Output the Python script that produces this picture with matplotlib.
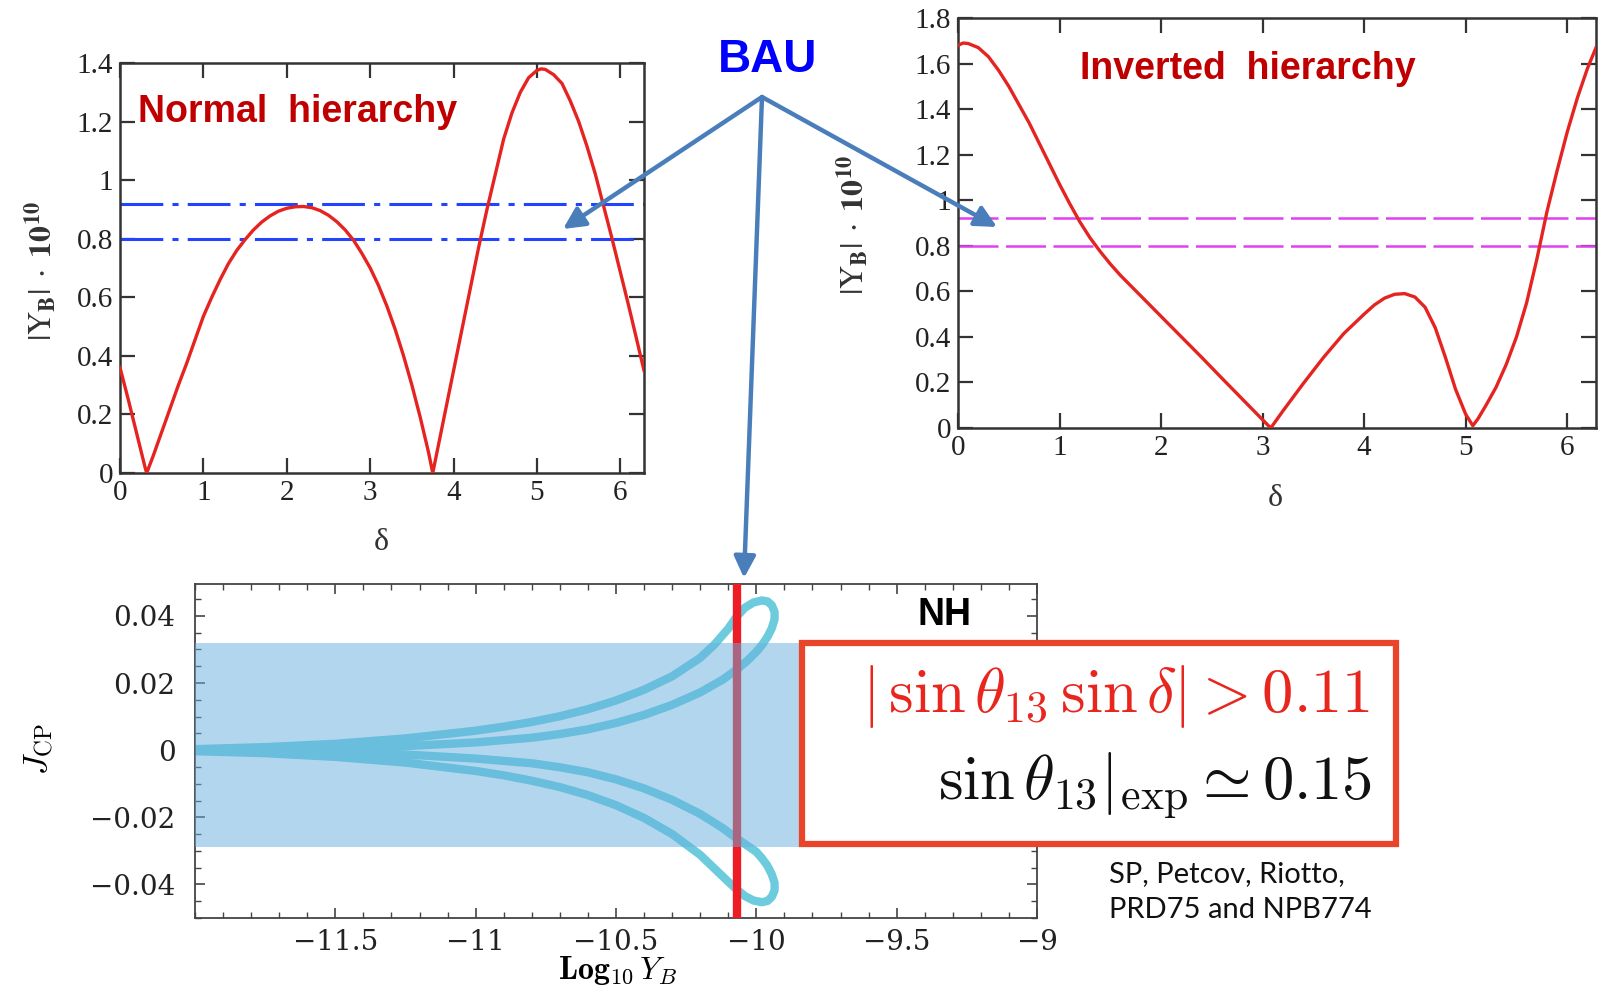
import matplotlib
matplotlib.use("Agg")
import matplotlib.pyplot as plt
from matplotlib.patches import FancyArrowPatch, Rectangle
from matplotlib.ticker import FixedLocator, FixedFormatter, MultipleLocator

plt.rcParams["font.family"] = ["Liberation Serif", "DejaVu Serif"]

# ---------------- data ----------------
nh_delta = [0.0, 0.1, 0.2, 0.3, 0.32, 0.4, 0.5, 0.6, 0.7, 0.8, 0.9, 1.0, 1.1, 1.2, 1.3, 1.4,
            1.5, 1.6, 1.7, 1.8, 1.9, 2.0, 2.1, 2.2, 2.3, 2.4, 2.5, 2.6, 2.7, 2.8, 2.9, 3.0,
            3.1, 3.2, 3.3, 3.4, 3.5, 3.6, 3.7, 3.75, 3.8, 3.9, 4.0, 4.1, 4.2, 4.3, 4.4, 4.5,
            4.6, 4.7, 4.8, 4.9, 5.0, 5.05, 5.1, 5.2, 5.3, 5.4, 5.5, 5.6, 5.7, 5.8, 5.9, 6.0,
            6.1, 6.2, 6.283]
nh_yb = [0.36, 0.25, 0.135, 0.02, 0.0, 0.06, 0.14, 0.22, 0.30, 0.375, 0.455, 0.535, 0.60,
         0.66, 0.715, 0.76, 0.797, 0.83, 0.857, 0.878, 0.894, 0.904, 0.909, 0.910, 0.906,
         0.896, 0.88, 0.858, 0.83, 0.795, 0.75, 0.70, 0.64, 0.57, 0.49, 0.40, 0.30, 0.19,
         0.07, 0.0, 0.07, 0.21, 0.35, 0.49, 0.63, 0.77, 0.90, 1.02, 1.14, 1.23, 1.30, 1.35,
         1.375, 1.38, 1.378, 1.36, 1.33, 1.27, 1.20, 1.115, 1.02, 0.91, 0.80, 0.685, 0.57,
         0.45, 0.35]

ih_delta = [0.0, 0.05, 0.1, 0.2, 0.3, 0.4, 0.5, 0.6, 0.7, 0.8, 0.9, 1.0, 1.1, 1.2, 1.3,
            1.4, 1.5, 1.6, 1.7, 1.8, 1.9, 2.0, 2.2, 2.4, 2.6, 2.8, 3.0, 3.08, 3.2, 3.4, 3.6,
            3.8, 4.0, 4.1, 4.2, 4.3, 4.4, 4.5, 4.6, 4.7, 4.8, 4.9, 5.0, 5.07, 5.12, 5.2, 5.3,
            5.4, 5.5, 5.6, 5.7, 5.8, 5.9, 6.0, 6.1, 6.2, 6.283]
ih_yb = [1.68, 1.69, 1.688, 1.67, 1.63, 1.57, 1.50, 1.42, 1.34, 1.25, 1.16, 1.07, 0.985,
         0.905, 0.835, 0.775, 0.72, 0.67, 0.625, 0.58, 0.535, 0.49, 0.40, 0.31, 0.218, 0.127,
         0.036, 0.0, 0.075, 0.195, 0.31, 0.415, 0.50, 0.54, 0.57, 0.587, 0.59, 0.575, 0.53,
         0.44, 0.31, 0.17, 0.06, 0.01, 0.04, 0.10, 0.18, 0.28, 0.40, 0.55, 0.74, 0.95, 1.13,
         1.30, 1.45, 1.58, 1.67]

bau_levels = [0.80, 0.92]

loop_up_x = [-12.0, -11.75, -11.5, -11.25, -11.0, -10.9, -10.8, -10.7, -10.6, -10.5, -10.4,
             -10.3, -10.2, -10.15, -10.1, -10.07, -10.04, -10.01, -9.98, -9.96, -9.945,
             -9.935, -9.935, -9.945, -9.96, -9.98, -10.0, -10.03, -10.07, -10.12, -10.2,
             -10.3, -10.4, -10.5, -10.6, -10.7, -10.8, -11.0, -11.25, -11.5, -11.75, -12.0]
loop_up_j = [0.0003, 0.0009, 0.0019, 0.0035, 0.0058, 0.0070, 0.0084, 0.0101, 0.0122, 0.0148,
             0.0180, 0.0220, 0.0275, 0.0314, 0.0362, 0.0398, 0.0425, 0.0440, 0.0446, 0.0443,
             0.0432, 0.0412, 0.0390, 0.0363, 0.0338, 0.0313, 0.0293, 0.0268, 0.0240, 0.0210,
             0.0172, 0.0135, 0.0105, 0.0081, 0.0062, 0.0048, 0.0037, 0.0023, 0.0012, 0.0005,
             0.0002, 0.0]
loop_dn_x = [-12.0, -11.75, -11.5, -11.25, -11.0, -10.9, -10.8, -10.7, -10.6, -10.5, -10.4,
             -10.3, -10.2, -10.15, -10.1, -10.07, -10.04, -10.01, -9.98, -9.96, -9.945,
             -9.935, -9.935, -9.945, -9.96, -9.98, -10.0, -10.04, -10.07, -10.12, -10.2,
             -10.3, -10.4, -10.5, -10.6, -10.7, -10.8, -11.0, -11.25, -11.5, -11.75, -12.0]
loop_dn_j = [-0.0003, -0.0009, -0.0020, -0.0037, -0.0062, -0.0075, -0.0091, -0.0110,
             -0.0134, -0.0164, -0.0202, -0.0250, -0.0312, -0.0352, -0.0392, -0.0415, -0.0435,
             -0.0448, -0.0453, -0.0449, -0.0437, -0.0418, -0.0395, -0.0370, -0.0345, -0.0322,
             -0.0303, -0.0280, -0.0263, -0.0232, -0.0190, -0.0148, -0.0114, -0.0087, -0.0066,
             -0.0051, -0.0039, -0.0025, -0.0013, -0.0006, -0.0002, 0.0]
jcp_band = [-0.0287, 0.032]
log_yb_obs = -10.07

# ---------------- figure ----------------
W, H = 1603, 990
fig = plt.figure(figsize=(W / 100, H / 100), dpi=100)


def fx(p):
    return p / W


def fy(p):
    return 1 - p / H


def ax_rect(l, t, r, b):
    return [fx(l), fy(b), fx(r) - fx(l), fy(t) - fy(b)]


serif = "Liberation Serif"


def style_top(ax, ymax, ylabels):
    ax.set_xlim(0, 6.283)
    ax.set_ylim(0, ymax)
    ax.xaxis.set_major_locator(FixedLocator(range(7)))
    ax.xaxis.set_major_formatter(FixedFormatter([str(i) for i in range(7)]))
    yt = [i * 0.2 for i in range(len(ylabels))]
    ax.yaxis.set_major_locator(FixedLocator(yt))
    ax.yaxis.set_major_formatter(FixedFormatter(ylabels))
    ax.tick_params(direction="in", length=11, width=1.6, top=True, right=True,
                   labelsize=21, color="#333333", labelcolor="#222222", pad=5)
    for s in ax.spines.values():
        s.set_linewidth(1.8)
        s.set_color("#333333")


ax1 = fig.add_axes(ax_rect(120, 63, 644, 473))
ax1.plot(nh_delta, nh_yb, color="#E52421", lw=2.4, zorder=3, solid_joinstyle="round")
for lv in bau_levels:
    ax1.axhline(lv, color="#2244FF", lw=2.2, dashes=(14, 3, 2, 3), zorder=2)
style_top(ax1, 1.4, ["0", "0.2", "0.4", "0.6", "0.8", "1", "1.2", "1.4"])

ax2 = fig.add_axes(ax_rect(958, 18, 1596, 428))
ax2.plot(ih_delta, ih_yb, color="#E52421", lw=2.4, zorder=3, solid_joinstyle="round")
for lv in bau_levels:
    ax2.axhline(lv, color="#E040F0", lw=1.8, dashes=(16, 3), zorder=2)
style_top(ax2, 1.8, ["0", "0.2", "0.4", "0.6", "0.8", "1", "1.2", "1.4", "1.6", "1.8"])

ylab = r"$|\mathrm{Y}_{\mathbf{B}}|\;\cdot\;\mathbf{10}^{\mathbf{10}}$"
fig.text(fx(41), fy(271), ylab, rotation=90, ha="center", va="center", fontsize=23,
         math_fontfamily="stix", color="#333333")
fig.text(fx(853), fy(225), ylab, rotation=90, ha="center", va="center", fontsize=23,
         math_fontfamily="stix", color="#333333")
fig.text(fx(381), fy(542), "δ", ha="center", va="center", fontsize=23, family=serif,
         color="#333333")
fig.text(fx(1275), fy(499), "δ", ha="center", va="center", fontsize=23, family=serif,
         color="#333333")

fig.text(fx(138), fy(112), "Normal  hierarchy", ha="left", va="center", fontsize=27,
         fontweight="bold", family="Liberation Sans", color="#C00000")
fig.text(fx(1080), fy(69), "Inverted  hierarchy", ha="left", va="center", fontsize=27,
         fontweight="bold", family="Liberation Sans", color="#C00000")
fig.text(fx(768), fy(60), "BAU", ha="center", va="center", fontsize=33,
         fontweight="bold", family="Liberation Sans", color="#0000FF")

# ---- bottom panel ----
ax3 = fig.add_axes(ax_rect(195, 584, 1037, 918))
for lx, ly in [(loop_up_x, loop_up_j), (loop_dn_x, loop_dn_j)]:
    ax3.plot(lx, ly, color="#6CCCDE", lw=6, solid_capstyle="round",
             solid_joinstyle="round", zorder=2)
ax3.axvline(log_yb_obs, color="#EE1D25", lw=6, zorder=3)
ax3.axhspan(jcp_band[0], jcp_band[1], color="#67AFDD", alpha=0.5, lw=0, zorder=4)
ax3.set_xlim(-12, -9)
ax3.set_ylim(-0.05, 0.0495)
xt = [-11.5, -11, -10.5, -10, -9.5, -9]
ax3.xaxis.set_major_locator(FixedLocator(xt))
ax3.xaxis.set_major_formatter(FixedFormatter(["\u221211.5", "\u221211", "\u221210.5",
                                              "\u221210", "\u22129.5", "\u22129"]))
ax3.xaxis.set_minor_locator(MultipleLocator(0.1))
yt3 = [-0.04, -0.02, 0, 0.02, 0.04]
ax3.yaxis.set_major_locator(FixedLocator(yt3))
ax3.yaxis.set_major_formatter(FixedFormatter(["\u22120.04", "\u22120.02", "0", "0.02", "0.04"]))
ax3.yaxis.set_minor_locator(MultipleLocator(0.005))
ax3.tick_params(which="both", direction="in", top=True, right=True, color="#444444")
ax3.tick_params(which="major", length=7, width=1.2, labelsize=20, labelcolor="#222222")
ax3.tick_params(axis="y", which="major", pad=14)
ax3.tick_params(axis="x", which="major", pad=8)
ax3.tick_params(which="minor", length=4, width=1.0)
for tk in ax3.xaxis.get_major_ticks() + ax3.yaxis.get_major_ticks():
    tk.label1.set_fontfamily("DejaVu Serif")
for s in ax3.spines.values():
    s.set_linewidth(1.3)
    s.set_color("#444444")

fig.text(fx(39), fy(749), r"$J_{\mathrm{CP}}$", rotation=90, ha="center", va="center",
         fontsize=24, math_fontfamily="cm")
fig.text(fx(618), fy(971), r"$\mathbf{Log}_{10}\,Y_B$", ha="center", va="center",
         fontsize=23, math_fontfamily="cm")
fig.text(fx(944), fy(615), "NH", ha="center", va="center", fontsize=27,
         fontweight="bold", family="Liberation Sans", color="black")

# box
box = Rectangle((fx(802), fy(844)), fx(1396) - fx(802), fy(643) - fy(844),
                transform=fig.transFigure, facecolor="white", edgecolor="#E8452A",
                lw=4.5, zorder=10)
fig.add_artist(box)
fig.text(fx(1370), fy(712), r"$|\,\sin\theta_{13}\,\sin\delta| > 0.11$", ha="right",
         va="baseline", fontsize=45, math_fontfamily="cm", color="#E8261E", zorder=11)
fig.text(fx(1372), fy(800), r"$\sin\theta_{13}|_{\rm exp} \simeq 0.15$", ha="right",
         va="baseline", fontsize=45, math_fontfamily="cm", color="#111111", zorder=11)

fig.text(fx(1109), fy(874), "SP, Petcov, Riotto,", ha="left", va="center", fontsize=21,
         family="Lato", color="#111111")
fig.text(fx(1109), fy(910), "PRD75 and NPB774", ha="left", va="center", fontsize=21,
         family="Lato", color="#111111")

# arrows
start = (762, 97)
for tip in [(563, 229), (997, 227), (744, 578)]:
    arr = FancyArrowPatch((fx(start[0]), fy(start[1])), (fx(tip[0]), fy(tip[1])),
                          transform=fig.transFigure,
                          arrowstyle="-|>,head_length=13,head_width=6.5",
                          mutation_scale=1, color="#4A7EBB", lw=3.2, zorder=20,
                          shrinkA=0, shrinkB=0)
    fig.add_artist(arr)

fig.savefig("out.png", dpi=100)
